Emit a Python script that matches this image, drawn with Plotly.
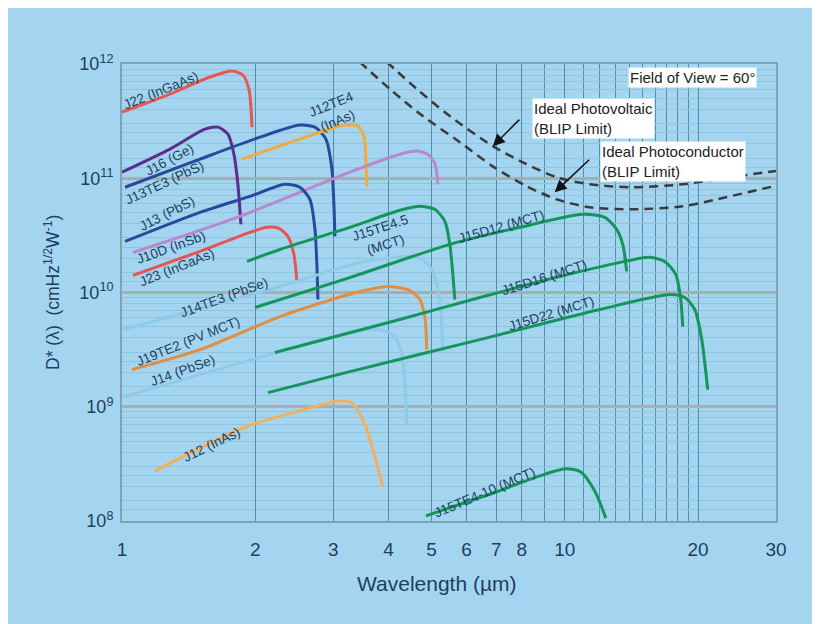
import math
import plotly.graph_objects as go

# ---------------- data: wavelength (µm) and D* (cm Hz^1/2 W^-1) ----------------
j22_wl = [1.00, 1.283, 1.58, 1.771, 1.876, 1.935, 1.955, 1.966]
j22_d = [3.79e11, 5.46e11, 7.69e11, 8.69e11, 8.01e11, 6.04e11, 4.20e11, 2.80e11]

j16_wl = [1.00, 1.283, 1.539, 1.647, 1.735, 1.790, 1.827, 1.856]
j16_d = [1.13e11, 1.80e11, 2.69e11, 2.80e11, 2.43e11, 1.62e11, 8.86e10, 3.95e10]

j13te3_wl = [1.016, 1.50, 2.05, 2.522, 2.728, 2.887, 2.979, 3.010, 3.026]
j13te3_d = [8.34e10, 1.47e11, 2.29e11, 2.92e11, 2.80e11, 2.20e11, 1.20e11, 5.91e10, 3.10e10]

j12te4_wl = [1.866, 2.522, 3.186, 3.410, 3.518, 3.554, 3.573]
j12te4_d = [1.47e11, 2.20e11, 2.92e11, 2.86e11, 2.34e11, 1.47e11, 8.51e10]

j13_wl = [1.016, 1.50, 1.945, 2.333, 2.522, 2.657, 2.728, 2.755, 2.770]
j13_d = [2.80e10, 5.03e10, 6.95e10, 8.86e10, 8.34e10, 6.54e10, 3.57e10, 1.76e10, 8.68e9]

j10d_wl = [1.059, 1.846, 3.270, 4.242, 4.634, 4.906, 5.088, 5.169]
j10d_d = [2.24e10, 4.64e10, 1.13e11, 1.62e11, 1.73e11, 1.62e11, 1.35e11, 8.86e10]

j23_wl = [1.059, 1.50, 1.945, 2.125, 2.262, 2.370, 2.445, 2.483]
j23_d = [1.41e10, 2.29e10, 3.36e10, 3.72e10, 3.64e10, 3.10e10, 2.15e10, 1.25e10]

j14te3_wl = [1.005, 2.274, 3.445, 4.354, 4.756, 5.010, 5.223, 5.306]
j14te3_d = [4.74e9, 1.13e10, 1.83e10, 2.07e10, 1.95e10, 1.59e10, 8.68e9, 2.98e9]

j19te2_wl = [1.053, 1.50, 2.274, 3.445, 4.027, 4.467, 4.706, 4.831, 4.881]
j19te2_d = [2.11e9, 3.16e9, 6.16e9, 1.02e10, 1.13e10, 1.04e10, 8.68e9, 6.04e9, 3.16e9]

j14_wl = [1.005, 2.274, 3.270, 3.823, 4.133, 4.286, 4.354, 4.400]
j14_d = [1.22e9, 3.04e9, 4.46e9, 4.74e9, 4.11e9, 2.86e9, 1.56e9, 6.95e8]

j15te45_wl = [1.915, 2.274, 3.270, 4.242, 4.706, 5.088, 5.361, 5.501, 5.646]
j15te45_d = [1.87e10, 2.38e10, 3.72e10, 5.24e10, 5.68e10, 5.35e10, 4.20e10, 2.64e10, 8.68e9]

j15d12_wl = [1.996, 3.270, 5.501, 7.913, 10.98, 12.31, 13.10, 13.52, 13.80]
j15d12_d = [7.39e9, 1.35e10, 2.64e10, 3.72e10, 4.83e10, 4.55e10, 3.57e10, 2.64e10, 1.53e10]

j15d16_wl = [2.215, 4.242, 6.43, 9.74, 14.02, 15.56, 16.82, 17.81, 18.28, 18.47]
j15d16_d = [2.98e9, 5.80e9, 9.04e9, 1.38e10, 1.91e10, 2.03e10, 1.87e10, 1.44e10, 8.68e9, 5.03e9]

j15d22_wl = [2.136, 3.270, 6.43, 12.0, 17.26, 18.66, 19.66, 20.39, 21.03]
j15d22_d = [1.33e9, 2.03e9, 3.87e9, 7.10e9, 9.60e9, 9.04e9, 7.10e9, 3.87e9, 1.41e9]

j12_wl = [1.187, 1.905, 2.522, 3.105, 3.323, 3.554, 3.725, 3.884]
j12_d = [2.75e8, 6.68e8, 9.22e8, 1.13e9, 1.06e9, 6.68e8, 3.64e8, 1.99e8]

j15te410_wl = [4.857, 7.10, 8.78, 10.05, 10.87, 11.69, 12.38]
j15te410_d = [1.11e8, 1.83e8, 2.48e8, 2.86e8, 2.69e8, 1.83e8, 1.06e8]

blip_pv_wl = [3.965, 4.634, 5.501, 6.88, 8.04, 9.59, 11.39, 14.24, 18.47, 22.03, 30.0]
blip_pv_d = [1.04e12, 6.04e11, 3.50e11, 1.91e11, 1.38e11, 1.02e11, 8.86e10, 8.34e10, 8.86e10, 9.80e10, 1.16e11]

blip_pc_wl = [3.445, 4.027, 4.781, 5.794, 6.88, 8.21, 9.59, 11.39, 14.24, 18.47, 22.03, 30.0]
blip_pc_d = [1.04e12, 6.04e11, 3.50e11, 2.07e11, 1.27e11, 8.51e10, 6.54e10, 5.57e10, 5.35e10, 5.68e10, 6.54e10, 8.6e10]

x_tick_vals = [1, 2, 3, 4, 5, 6, 7, 8, 10, 20, 30]
x_tick_text = ["1", "2", "3", "4", "5", "6", "7", "8", "10", "20", "30"]
x_minor_vals = [9, 11, 12, 13, 14, 15, 16, 17, 18, 19]
y_tick_vals = [1e8, 1e9, 1e10, 1e11, 1e12]
y_tick_text = ["10<sup>8</sup>", "10<sup>9</sup>", "10<sup>10</sup>", "10<sup>11</sup>", "10<sup>12</sup>"]
y_minor_mult = [1.25, 1.5, 2, 2.5, 3, 4, 5, 6, 7, 8, 9]

# curve labels: text, wavelength, D*, angle
curve_labels = [
    ("J22 (InGaAs)", 1.225, 5.92e11, -22),
    ("J16 (Ge)", 1.283, 1.47e11, -28),
    ("J13TE3 (PbS)", 1.250, 9.23e10, -25),
    ("J13 (PbS)", 1.264, 4.93e10, -27),
    ("J10D (InSb)", 1.290, 2.48e10, -20),
    ("J23 (InGaAs)", 1.331, 1.66e10, -22),
    ("J12TE4<br>(InAs)", 3.026, 3.79e11, -22),
    ("J14TE3 (PbSe)", 1.699, 9.04e9, -20),
    ("J19TE2 (PV MCT)", 1.409, 3.72e9, -22),
    ("J14 (PbSe)", 1.373, 2.07e9, -20),
    ("J15TE4.5<br>(MCT)", 3.884, 3.10e10, -18),
    ("J15D12 (MCT)", 7.21, 3.79e10, -16),
    ("J15D16 (MCT)", 9.01, 1.35e10, -18),
    ("J15D22 (MCT)", 9.35, 6.55e9, -17),
    ("J12 (InAs)", 1.597, 4.64e8, -26),
    ("J15TE4-10 (MCT)", 6.60, 1.76e8, -23),
]

GREEN = "#14955c"
curves = [
    (j22_wl, j22_d, "#e9584f"),
    (j16_wl, j16_d, "#5a2e8c"),
    (j13te3_wl, j13te3_d, "#274b9b"),
    (j12te4_wl, j12te4_d, "#f4a93a"),
    (j10d_wl, j10d_d, "#b888cc"),
    (j13_wl, j13_d, "#274b9b"),
    (j23_wl, j23_d, "#e8534f"),
    (j14te3_wl, j14te3_d, "#8fcbe6"),
    (j14_wl, j14_d, "#8fcbe6"),
    (j19te2_wl, j19te2_d, "#e38d3e"),
    (j15te45_wl, j15te45_d, GREEN),
    (j15d12_wl, j15d12_d, GREEN),
    (j15d16_wl, j15d16_d, GREEN),
    (j15d22_wl, j15d22_d, GREEN),
    (j12_wl, j12_d, "#f2b05e"),
    (j15te410_wl, j15te410_d, GREEN),
]

fig = go.Figure()
for wl, d, col in curves:
    fig.add_trace(go.Scatter(x=wl, y=d, mode="lines",
                             line=dict(color=col, width=3, shape="spline", smoothing=0.7),
                             showlegend=False, hoverinfo="skip"))
for wl, d in [(blip_pv_wl, blip_pv_d), (blip_pc_wl, blip_pc_d)]:
    fig.add_trace(go.Scatter(x=wl, y=d, mode="lines",
                             line=dict(color="#3a3a3a", width=2.5, dash="9px,6px",
                                       shape="spline", smoothing=0.8),
                             showlegend=False, hoverinfo="skip"))

TXT = "#1e3f5e"
FONT = "Liberation Sans, Arial, sans-serif"
ann = []
for text, wl, d, ang in curve_labels:
    ann.append(dict(x=math.log10(wl), y=math.log10(d), xref="x", yref="y", text=text,
                    showarrow=False, textangle=ang, font=dict(size=13.5, color=TXT, family=FONT),
                    align="center"))

# BLIP text annotations and arrows
ann.append(dict(x=math.log10(13.87), y=math.log10(7.69e11), xref="x", yref="y",
                text="Field of View = 60°", showarrow=False, xanchor="left",
                font=dict(size=15, color="#222", family=FONT), bgcolor="white"))
ann.append(dict(x=math.log10(8.42), y=math.log10(3.36e11), xref="x", yref="y",
                text="Ideal Photovoltaic<br>(BLIP Limit)", showarrow=False, xanchor="left",
                align="left", font=dict(size=15, color="#222", family=FONT), bgcolor="white"))
ann.append(dict(x=math.log10(12.0), y=math.log10(1.41e11), xref="x", yref="y",
                text="Ideal Photoconductor<br>(BLIP Limit)", showarrow=False, xanchor="left",
                align="left", font=dict(size=15, color="#222", family=FONT), bgcolor="white"))
ann.append(dict(x=math.log10(6.88), y=math.log10(1.91e11), xref="x", yref="y", text="",
                showarrow=True, arrowhead=2, arrowsize=1.6, arrowwidth=1.5, arrowcolor="#111",
                ax=28, ay=-28))
ann.append(dict(x=math.log10(9.49), y=math.log10(7.54e10), xref="x", yref="y", text="",
                showarrow=True, arrowhead=2, arrowsize=1.6, arrowwidth=1.5, arrowcolor="#111",
                ax=36, ay=-34))

# axis titles
ann.append(dict(x=0.4817, y=-0.136, xref="paper", yref="paper", text="Wavelength (µm)",
                xanchor="center", yanchor="middle",
                showarrow=False, font=dict(size=21, color=TXT, family=FONT)))
ann.append(dict(x=-0.107, y=0.499, xref="paper", yref="paper",
                text="D* (λ)  (cmHz<sup>1/2</sup>W<sup>-1</sup>)", textangle=-90,
                xanchor="center", yanchor="middle",
                showarrow=False, font=dict(size=17.5, color=TXT, family=FONT)))

y_minor_vals = [m * 10 ** e for e in range(8, 12) for m in y_minor_mult]

fig.update_layout(
    width=820, height=624,
    margin=dict(l=114, r=52, t=56, b=111),
    paper_bgcolor="white", plot_bgcolor="white",
    annotations=ann,
    shapes=[dict(type="rect", xref="paper", yref="paper", x0=-0.18, x1=1.0566,
                 y0=-0.26, y1=1.13, fillcolor="#a3d5f1", line=dict(width=0), layer="below")],
    xaxis=dict(type="log", range=[0, math.log10(30)], tickvals=x_tick_vals, ticktext=x_tick_text,
               showgrid=True, gridcolor="#4f8fae", gridwidth=1,
               minor=dict(tickvals=x_minor_vals, showgrid=True, gridcolor="#4f8fae", gridwidth=1),
               ticks="outside", ticklen=10, tickcolor="rgba(0,0,0,0)",
               tickfont=dict(size=19, color=TXT, family=FONT),
               showline=True, linecolor="#7fa3b5", linewidth=2, mirror=True, zeroline=False),
    yaxis=dict(type="log", range=[8, 12], tickvals=y_tick_vals, ticktext=y_tick_text,
               showgrid=True, gridcolor="#a4aeb4", gridwidth=2.5,
               minor=dict(tickvals=y_minor_vals, showgrid=True, gridcolor="#93c3d8", gridwidth=1),
               ticks="outside", ticklen=3, tickcolor="rgba(0,0,0,0)",
               tickfont=dict(size=18, color=TXT, family=FONT),
               showline=True, linecolor="#7fa3b5", linewidth=2, mirror=True, zeroline=False),
)

fig.write_html("out.html")
